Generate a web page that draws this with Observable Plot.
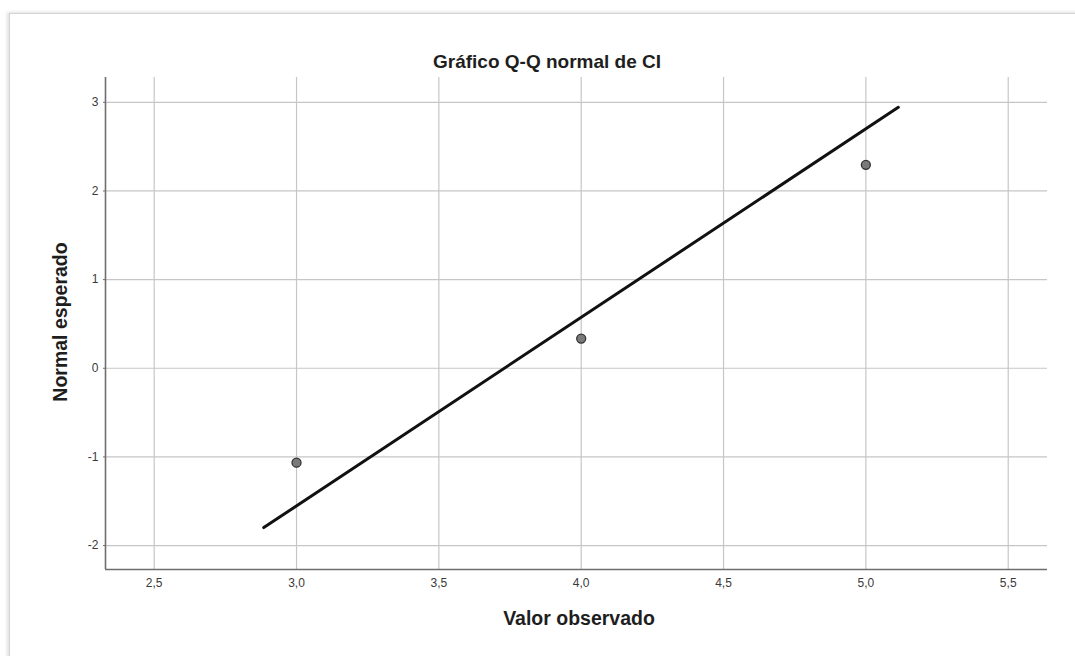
<!DOCTYPE html>
<html>
<head>
<meta charset="utf-8">
<script src="https://cdn.jsdelivr.net/npm/d3@7"></script>
<script src="https://cdn.jsdelivr.net/npm/@observablehq/plot@0.6"></script>
<style>
  html, body { margin: 0; padding: 0; background: #fff; width: 1075px; height: 656px; overflow: hidden; }
  #wrap { position: relative; width: 1075px; height: 656px; font-family: "Liberation Sans", Arial, sans-serif; }
  #card { position: absolute; left: 9px; top: 13px; width: 1100px; height: 700px; border: 1px solid #d4d4d4; box-shadow: -2px -1px 3px rgba(0,0,0,0.12); background: #fff; }
  #chart { position: absolute; left: 0; top: 0; }
  .t { position: absolute; color: #1e1e1e; font-weight: bold; white-space: nowrap; line-height: 1; }
  #title { left: 547px; top: 61px; font-size: 19px; transform: translate(-50%, -50%); }
  #xlab { left: 579px; top: 619px; font-size: 19.5px; transform: translate(-50%, -50%); }
  #ylab { left: 61px; top: 322px; font-size: 19.5px; transform: translate(-50%, -50%) rotate(-90deg); }
</style>
</head>
<body>
<div id="wrap">
  <div id="card"></div>
  <div id="chart"></div>
  <div class="t" id="title">Gráfico Q-Q normal de CI</div>
  <div class="t" id="xlab">Valor observado</div>
  <div class="t" id="ylab">Normal esperado</div>
</div>
<script>
// Observed values and expected normal quantiles
const observed = [3.0, 4.0, 5.0];
const expected = [-1.065, 0.335, 2.295];
// Reference line endpoints
const lineX = [2.885, 5.114];
const lineY = [-1.797, 2.944];
// Ticks
const xTicks = [2.5, 3.0, 3.5, 4.0, 4.5, 5.0, 5.5];
const yTicks = [-2, -1, 0, 1, 2, 3];
const xDomain = [2.329, 5.638];
const yDomain = [-2.27, 3.28];

const points = observed.map((x, i) => ({x, y: expected[i]}));
const line = lineX.map((x, i) => ({x, y: lineY[i]}));
const fmt = d => d.toFixed(1).replace(".", ",");

const plot = Plot.plot({
  width: 1075,
  height: 656,
  marginLeft: 105,
  marginRight: 28,
  marginTop: 77,
  marginBottom: 87,
  style: {fontFamily: "'Liberation Sans', Arial, sans-serif", fontSize: "12px", color: "#444", background: "transparent"},
  x: {domain: xDomain, ticks: xTicks, tickFormat: fmt, label: null},
  y: {domain: yDomain, ticks: yTicks, tickFormat: d => String(d), label: null},
  marks: [
    Plot.gridX(xTicks, {stroke: "#c6c6c6", strokeOpacity: 1, strokeWidth: 1.2}),
    Plot.gridY(yTicks, {stroke: "#c6c6c6", strokeOpacity: 1, strokeWidth: 1.2}),
    Plot.ruleX([xDomain[0]], {stroke: "#6e6e6e", strokeWidth: 1.6}),
    Plot.ruleY([yDomain[0]], {stroke: "#6e6e6e", strokeWidth: 1.6}),
    Plot.axisX(xTicks, {tickFormat: fmt, tickSize: 0, tickPadding: 9, label: null, fill: "#3a3a3a", fontSize: 12}),
    Plot.axisY(yTicks, {tickFormat: d => String(d), tickSize: 2, tickPadding: 5, label: null, fill: "#3a3a3a", stroke: "#6e6e6e", fontSize: 12}),
    Plot.line(line, {x: "x", y: "y", stroke: "#111", strokeWidth: 3}),
    Plot.dot(points, {x: "x", y: "y", r: 4.5, fill: "#7a7a7a", stroke: "#333", strokeWidth: 1.3})
  ]
});
document.getElementById("chart").appendChild(plot);
</script>
</body>
</html>
